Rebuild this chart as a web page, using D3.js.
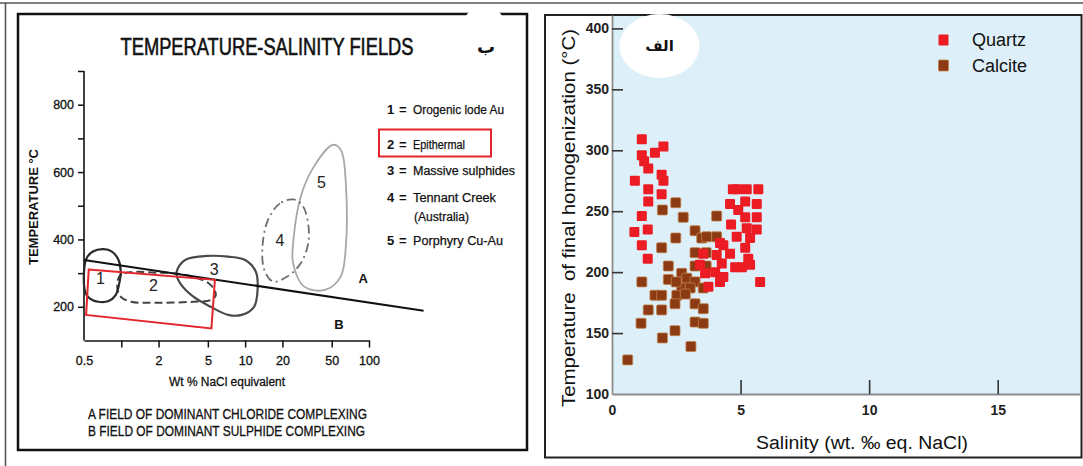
<!DOCTYPE html>
<html><head><meta charset="utf-8">
<script src="https://cdn.jsdelivr.net/npm/d3@7"></script>
<style>html,body{margin:0;padding:0;background:#fff;}svg{display:block;}</style>
</head><body>
<script>
// ---------- RIGHT PANEL DATA (salinity wt.%, homogenization temperature °C) ----------
const quartzSalinity = [1.16,2.0,1.16,1.67,1.41,1.93,2.0,0.89,1.41,1.93,1.41,1.16,0.87,1.39,1.16,1.39,1.25,4.89,5.24,5.69,4.59,5.18,5.63,4.91,5.63,5.18,4.63,5.24,5.63,4.85,5.37,4.33,5.18,4.59,4.07,5.30,4.27,4.79,5.05,5.37,4.01,4.20,5.76,3.55,3.62,3.75,4.33,3.42,4.20,4.70];
const quartzTemp = [309,303,296,298,285,280,275,275,268,264,258,246,233,235,222,211,291,268,268,268,256,258,256,251,245,245,239,236,235,229,228,222,220,215,214,211,207,204,204,206,200,192,192,215,199,188,196,206,224,268];
const calciteSalinity = [2.48,1.96,2.77,3.23,2.48,3.49,1.93,4.07,3.68,4.07,3.23,2.19,1.16,2.71,2.19,3.23,3.66,3.66,2.91,3.23,2.71,3.04,2.52,3.55,1.67,1.93,1.41,1.93,2.45,3.23,3.55,1.13,3.23,3.55,2.45,1.96,3.07,0.61,2.5,2.85];
const calciteTemp = [257,251,245,234,228,228,220,246,229,229,216,205,192,199,194,205,216,205,195,192,187,187,181,187,181,181,169,169,174,174,170,158,159,158,152,146,139,128,192,182];
const rightXTicks = [0,5,10,15];
const rightYTicks = [100,150,200,250,300,350,400];
const seriesNames = ["Quartz","Calcite"];

// ---------- LEFT PANEL DATA (log salinity, temperature) ----------
const leftXTicks = [0.5,1,2,5,10,20,50,100];
const leftXTickLabels = ["0.5","","2","5","10","20","50","100"];
const leftYTicks = [200,300,400,500,600,700,800,900];
const leftYTickLabels = ["200","","400","","600","","800",""];
const field1 = [[0.52,341],[0.59,364],[0.72,371],[0.84,364],[0.95,339],[0.99,304],[0.957,265],[0.90,235],[0.79,217],[0.65,215],[0.555,225],[0.51,245]];
const field2 = [[0.96,289],[1.06,300],[1.36,304],[1.88,301],[2.6,300],[3.82,289],[5.27,265],[5.8,235],[5.27,220],[3.82,215],[1.88,212],[1.2,215],[0.99,230],[0.93,255]];
const field3 = [[2.86,314],[3.36,341],[4.94,351],[7.28,349],[10.0,339],[12.2,304],[12.6,250],[11.8,200],[9.4,176],[7.28,176],[5.27,200],[3.82,230],[3.05,265],[2.8,294]];
const field4 = [[24.4,519],[19.1,507],[15.3,458],[13.8,378],[14.3,309],[16.8,275],[21.7,289],[28.1,329],[32.6,398],[31,478],[28.1,507]];
const field5 = [[50.2,680],[35.2,611],[28.1,527],[24.7,408],[24.4,329],[30,260],[44.1,250],[58.9,289],[65,378],[65,567],[60.8,656],[55.2,678]];
const fieldLabelPos = [[0.68,285],[1.82,265],[5.62,311],[19.1,398],[41.3,571]];
const boundaryLine = [[0.5,339],[276,188.5]];
const epithermalBox = [[0.546,311],[5.7,280],[5.34,136],[0.52,176]];
const zoneLabels = ["A","B"];
const zoneLabelPos = [[89.6,285],[57.1,148]];
const legendNums = ["1","2","3","4","5"];
const legendNames = ["Orogenic lode Au","Epithermal","Massive sulphides","Tennant Creek","Porphyry Cu-Au"];
const notes = ["A FIELD OF DOMINANT CHLORIDE COMPLEXING","B FIELD OF DOMINANT SULPHIDE COMPLEXING"];

// ---------- DRAW ----------
const W = 1083, H = 466;
const svg = d3.select("body").append("svg").attr("width", W).attr("height", H);
svg.append("rect").attr("width", W).attr("height", H).attr("fill", "#fff");
const narrow = "'Liberation Sans Narrow','Arial Narrow','Liberation Sans',Arial,sans-serif";
const sans = "'Liberation Sans',Arial,sans-serif";

// outer border
svg.append("line").attr("x1",0).attr("x2",W).attr("y1",3).attr("y2",3).attr("stroke","#555").attr("stroke-width",1.6);
svg.append("line").attr("x1",5.5).attr("x2",5.5).attr("y1",3).attr("y2",H).attr("stroke","#555").attr("stroke-width",1.6);

// ===== LEFT PANEL =====
const L = svg.append("g");
L.append("rect").attr("x",18).attr("y",14).attr("width",509).attr("height",436)
  .attr("fill","#fff").attr("stroke","#111").attr("stroke-width",2.5);
L.append("ellipse").attr("cx",484).attr("cy",17).attr("rx",18).attr("ry",9).attr("fill","#fff");

// title: condensed by horizontal scaling so its box is its drawn width
const title = L.append("text").attr("x",0).attr("y",0).attr("text-anchor","middle")
  .attr("font-family",narrow).attr("font-size",24).attr("fill","#111")
  .attr("stroke","#111").attr("stroke-width",0.6)
  .text("TEMPERATURE-SALINITY FIELDS");
const tw = title.node().getComputedTextLength();
title.attr("transform",`translate(267,55) scale(${293/tw},1)`);

L.append("text").attr("x",486).attr("y",53).attr("text-anchor","middle")
  .attr("font-family","'DejaVu Sans',sans-serif").attr("font-weight","bold").attr("font-size",18).attr("fill","#111").text("ب");

const xL = d3.scaleLog().domain([0.5,100]).range([84,369]);
const yL = d3.scaleLinear().domain([100,900]).range([340.5,71]);

const yAxL = L.append("g").attr("transform","translate(84,0)")
  .call(d3.axisLeft(yL).tickValues(leftYTicks).tickSize(6).tickSizeOuter(0).tickPadding(4)
    .tickFormat((d,i)=>leftYTickLabels[i]));
const xAxL = L.append("g").attr("transform","translate(0,340.5)")
  .call(d3.axisBottom(xL).tickValues(leftXTicks).tickSize(7).tickSizeOuter(0).tickPadding(9)
    .tickFormat((d,i)=>leftXTickLabels[i]));
[yAxL,xAxL].forEach(g=>{
  g.select(".domain").attr("stroke","#111").attr("stroke-width",1.6);
  g.selectAll(".tick line").attr("stroke","#111").attr("stroke-width",1.5);
  g.selectAll(".tick text").attr("font-family",narrow).attr("font-size",12.5).attr("fill","#111")
    .attr("stroke","#111").attr("stroke-width",0.3);
});
yAxL.select(".domain").attr("d", `M0,${yL(100)}V${yL(900)}`);
xAxL.selectAll(".tick").filter(d=>d===0.5).select("line").remove();

L.append("text").attr("transform","translate(38,207) rotate(-90)").attr("text-anchor","middle")
  .attr("font-family",narrow).attr("font-weight","bold").attr("font-size",12.5).attr("fill","#111")
  .attr("textLength",116).attr("lengthAdjust","spacingAndGlyphs").text("TEMPERATURE °C");
L.append("text").attr("x",227).attr("y",386).attr("text-anchor","middle")
  .attr("font-family",narrow).attr("font-size",12.5).attr("fill","#111").attr("stroke","#111").attr("stroke-width",0.3)
  .attr("textLength",116).attr("lengthAdjust","spacingAndGlyphs").text("Wt % NaCl equivalent");

const lineL = d3.line().x(d=>xL(d[0])).y(d=>yL(d[1]));
const closedL = d3.line().x(d=>xL(d[0])).y(d=>yL(d[1])).curve(d3.curveCatmullRomClosed.alpha(0.5));

const fieldStyles = [
  {data:field5, stroke:"#a8a8a8", w:1.8, dash:null},
  {data:field4, stroke:"#6e6e6e", w:1.8, dash:"9,4,2,4"},
  {data:field3, stroke:"#4a4a4a", w:2.2, dash:null},
  {data:field2, stroke:"#444", w:2, dash:"8,4"},
  {data:field1, stroke:"#2a2a2a", w:2.2, dash:null}
];
fieldStyles.forEach(f=>{
  L.append("path").attr("d",closedL(f.data)).attr("fill","none").attr("stroke",f.stroke)
    .attr("stroke-width",f.w).attr("stroke-dasharray",f.dash);
});
L.append("path").attr("d",lineL(boundaryLine)).attr("fill","none").attr("stroke","#111").attr("stroke-width",2);
L.append("path").attr("d",lineL(epithermalBox)+"Z").attr("fill","none").attr("stroke","#e3262b").attr("stroke-width",2);

fieldLabelPos.forEach((p,i)=>{
  L.append("text").attr("x",xL(p[0])).attr("y",yL(p[1])).attr("dy","0.36em").attr("text-anchor","middle")
    .attr("font-family",sans).attr("font-size",16).attr("fill","#222").text(legendNums[i]);
});
zoneLabelPos.forEach((p,i)=>{
  L.append("text").attr("x",xL(p[0])).attr("y",yL(p[1])).attr("dy","0.36em").attr("text-anchor","middle")
    .attr("font-family",sans).attr("font-weight","bold").attr("font-size",13).attr("fill","#111").text(zoneLabels[i]);
});

// legend
const legY = [113.5,148.5,175,201.5,244.5];
const legW = [91,52,102,83,90];
legendNums.forEach((n,i)=>{
  L.append("text").attr("x",387).attr("y",legY[i]).attr("font-family",sans).attr("font-weight","bold")
    .attr("font-size",13).attr("fill","#111").text(n);
  L.append("text").attr("x",399).attr("y",legY[i]).attr("font-family",sans).attr("font-weight","bold")
    .attr("font-size",13).attr("fill","#111").text("=");
  L.append("text").attr("x",413).attr("y",legY[i]).attr("font-family",narrow)
    .attr("font-size",12.5).attr("fill","#111").attr("stroke","#111").attr("stroke-width",0.25)
    .attr("textLength",legW[i]).attr("lengthAdjust","spacingAndGlyphs").text(legendNames[i]);
});
L.append("text").attr("x",414).attr("y",221).attr("font-family",narrow)
  .attr("font-size",12.5).attr("fill","#111").attr("stroke","#111").attr("stroke-width",0.25)
  .attr("textLength",55).attr("lengthAdjust","spacingAndGlyphs").text("(Australia)");
L.append("rect").attr("x",379).attr("y",129.5).attr("width",112).attr("height",27)
  .attr("fill","none").attr("stroke","#e3262b").attr("stroke-width",2);

notes.forEach((t,i)=>{
  L.append("text").attr("x",88).attr("y",418.5+i*17).attr("font-family",narrow).attr("font-size",14)
    .attr("fill","#111").attr("stroke","#111").attr("stroke-width",0.3)
    .attr("textLength",i===0?279:277).attr("lengthAdjust","spacingAndGlyphs").text(t);
});

// ===== RIGHT PANEL =====
const R = svg.append("g");
R.append("rect").attr("x",545).attr("y",15).attr("width",536.5).attr("height",442.5)
  .attr("fill","#fff").attr("stroke","#222").attr("stroke-width",2);
const xR = d3.scaleLinear().domain([0,18.2]).range([612,1080]);
const yR = d3.scaleLinear().domain([100,411]).range([394,15]);
R.append("rect").attr("x",xR(0)).attr("y",yR(411)+1).attr("width",xR(18.2)-xR(0)).attr("height",yR(100)-yR(411)-1)
  .attr("fill","#ddeff8");

R.append("ellipse").attr("cx",659.5).attr("cy",46).attr("rx",40).attr("ry",32).attr("fill","#fff");
R.append("text").attr("x",659.5).attr("y",46).attr("dy","0.3em").attr("text-anchor","middle")
  .attr("font-family","'DejaVu Sans',sans-serif").attr("font-weight","bold").attr("font-size",15).attr("fill","#111").text("الف");

const yAxR = R.append("g").attr("transform",`translate(${xR(0)},0)`)
  .call(d3.axisLeft(yR).tickValues(rightYTicks).tickSize(-11).tickSizeOuter(0).tickPadding(3));
const xAxR = R.append("g").attr("transform",`translate(0,${yR(100)})`)
  .call(d3.axisBottom(xR).tickValues(rightXTicks).tickSize(-14).tickSizeOuter(0).tickPadding(11));
[yAxR,xAxR].forEach(g=>{
  g.select(".domain").attr("stroke","#8c8c8c").attr("stroke-width",1.8);
  g.selectAll(".tick line").attr("stroke","#333").attr("stroke-width",1.6);
  g.selectAll(".tick text").attr("font-family",sans).attr("font-weight","bold").attr("font-size",14).attr("fill","#222");
});
yAxR.selectAll(".tick").filter(d=>d===100).select("line").remove();
xAxR.selectAll(".tick").filter(d=>d===0).select("line").remove();

const sq = 10;
const calcite = calciteSalinity.map((s,i)=>[s,calciteTemp[i]]);
const quartz = quartzSalinity.map((s,i)=>[s,quartzTemp[i]]);
R.append("g").selectAll("rect").data(calcite).join("rect")
  .attr("x",d=>xR(d[0])-sq/2).attr("y",d=>yR(d[1])-sq/2).attr("width",sq).attr("height",sq).attr("rx",1.2)
  .attr("fill","#8b3a13").attr("stroke","#c0804a").attr("stroke-width",0.8);
R.append("g").selectAll("rect").data(quartz).join("rect")
  .attr("x",d=>xR(d[0])-sq/2).attr("y",d=>yR(d[1])-sq/2).attr("width",sq).attr("height",sq).attr("rx",1.2)
  .attr("fill","#ec1c24");

// legend
const legColors = ["#ec1c24","#8b3a13"];
seriesNames.forEach((n,i)=>{
  R.append("rect").attr("x",938.5).attr("y",34.5+i*25.5).attr("width",10).attr("height",11).attr("rx",1)
    .attr("fill",legColors[i]).attr("stroke",i===1?"#c0804a":"none").attr("stroke-width",0.8);
  R.append("text").attr("x",972).attr("y",40+i*25.5).attr("dy","0.36em").attr("font-family",sans)
    .attr("font-size",18).attr("fill","#111").text(n);
});

R.append("text").attr("transform","translate(569,218) rotate(-90)").attr("text-anchor","middle").attr("dy","0.35em")
  .attr("font-family",sans).attr("font-size",18).attr("fill","#111").style("white-space","pre")
  .attr("textLength",378).attr("lengthAdjust","spacingAndGlyphs")
  .text("Temperature  of final homogenization (°C)");
R.append("text").attr("x",862).attr("y",449).attr("text-anchor","middle")
  .attr("font-family",sans).attr("font-size",18).attr("fill","#111")
  .attr("textLength",212).attr("lengthAdjust","spacingAndGlyphs")
  .text("Salinity (wt. ‰ eq. NaCl)");
</script>
</body></html>
